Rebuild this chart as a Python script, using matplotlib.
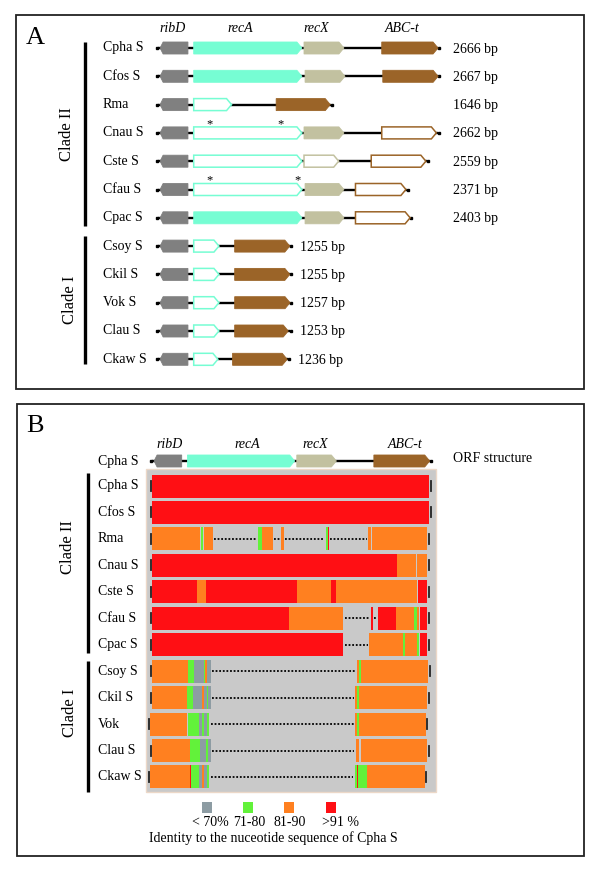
import matplotlib
matplotlib.use("Agg")
import matplotlib.pyplot as plt
from matplotlib.patches import Polygon, Rectangle

plt.rcParams["font.family"] = ["Liberation Serif", "DejaVu Serif"]

# ── Data ───────────────────────────────────────────────────────────────────────
STRAINS_A = ["Cpha S", "Cfos S", "Rma", "Cnau S", "Cste S", "Cfau S", "Cpac S",
             "Csoy S", "Ckil S", "Vok S", "Clau S", "Ckaw S"]
STRAINS_B = ["Cpha S", "Cfos S", "Rma", "Cnau S", "Cste S", "Cfau S", "Cpac S",
             "Csoy S", "Ckil S", "Vok", "Clau S", "Ckaw S"]
ORF_LEN = [2666, 2667, 1646, 2662, 2559, 2371, 2403, 1255, 1255, 1257, 1253, 1236]
N_CLADE_II = 7

# (gene, start bp, end bp, intact ORF)
ORFS = [
    [("ribD", 20, 285, 1), ("recA", 340, 1370, 1), ("recX", 1390, 1770, 1), ("ABC", 2130, 2666, 1)],
    [("ribD", 20, 285, 1), ("recA", 340, 1370, 1), ("recX", 1400, 1780, 1), ("ABC", 2140, 2667, 1)],
    [("ribD", 20, 285, 1), ("recA", 340, 700, 0), ("ABC", 1125, 1640, 1)],
    [("ribD", 20, 285, 1), ("recA", 340, 1370, 0), ("recX", 1390, 1770, 1), ("ABC", 2130, 2650, 0)],
    [("ribD", 20, 285, 1), ("recA", 340, 1370, 0), ("recX", 1390, 1720, 0), ("ABC", 2030, 2550, 0)],
    [("ribD", 20, 285, 1), ("recA", 340, 1370, 0), ("recX", 1400, 1770, 1), ("ABC", 1880, 2360, 0)],
    [("ribD", 20, 285, 1), ("recA", 340, 1370, 1), ("recX", 1400, 1770, 1), ("ABC", 1880, 2400, 0)],
    [("ribD", 20, 285, 1), ("recA", 340, 580, 0), ("ABC", 730, 1255, 1)],
    [("ribD", 20, 285, 1), ("recA", 340, 580, 0), ("ABC", 730, 1255, 1)],
    [("ribD", 20, 285, 1), ("recA", 340, 580, 0), ("ABC", 730, 1257, 1)],
    [("ribD", 20, 285, 1), ("recA", 340, 580, 0), ("ABC", 730, 1240, 1)],
    [("ribD", 20, 285, 1), ("recA", 340, 570, 0), ("ABC", 710, 1230, 1)],
]
STARS = {3: [495, 1171], 5: [495, 1328]}

GENE_LABELS = ["ribD", "recA", "recX", "ABC-t"]

# identity segments along Cpha S (start bp, end bp, class); "-" = gap
ALIGN = [
    [(0, 2660, "r")],
    [(0, 2660, "r")],
    [(0, 460, "o"), (470, 490, "g"), (500, 585, "o"), (585, 1010, "-"), (1015, 1055, "g"),
     (1055, 1160, "o"), (1160, 1235, "-"), (1240, 1265, "o"), (1265, 1665, "-"),
     (1670, 1690, "g"), (1690, 1700, "r"), (1700, 2070, "-"), (2070, 2100, "o"), (2110, 2640, "o")],
    [(0, 2350, "r"), (2350, 2535, "o"), (2545, 2640, "o")],
    [(0, 435, "r"), (435, 520, "o"), (520, 1395, "r"), (1395, 1720, "o"), (1720, 1770, "r"),
     (1770, 2545, "o"), (2555, 2640, "r")],
    [(0, 1315, "r"), (1315, 1835, "o"), (1840, 2100, "-"), (2105, 2120, "r"), (2125, 2160, "-"),
     (2165, 2345, "r"), (2345, 2515, "o"), (2515, 2545, "g"), (2545, 2565, "o"), (2575, 2640, "r")],
    [(0, 1835, "r"), (1845, 2080, "-"), (2085, 2410, "o"), (2410, 2430, "g"), (2430, 2545, "o"),
     (2545, 2565, "g"), (2575, 2640, "r")],
    [(0, 345, "o"), (345, 405, "g"), (405, 500, "s"), (500, 510, "g"), (510, 530, "o"),
     (530, 565, "s"), (570, 1965, "-"), (1970, 1990, "o"), (1990, 2010, "g"), (2010, 2650, "o")],
    [(0, 335, "o"), (335, 395, "g"), (395, 480, "s"), (480, 500, "o"), (500, 525, "s"),
     (525, 540, "g"), (540, 565, "s"), (570, 1945, "-"), (1950, 1970, "o"), (1970, 1985, "g"),
     (1985, 2640, "o")],
    [(-20, 340, "o"), (345, 450, "g"), (450, 480, "s"), (480, 500, "g"), (500, 525, "s"),
     (525, 550, "g"), (555, 1945, "-"), (1950, 1970, "o"), (1970, 1985, "g"), (1985, 2630, "o")],
    [(0, 365, "o"), (365, 460, "g"), (460, 520, "s"), (520, 540, "g"), (540, 565, "s"),
     (570, 1945, "-"), (1955, 1985, "o"), (2005, 2640, "o")],
    [(-20, 365, "o"), (365, 375, "r"), (375, 450, "g"), (450, 480, "s"), (480, 500, "o"),
     (500, 525, "s"), (525, 550, "g"), (555, 1935, "-"), (1945, 1965, "g"), (1965, 1975, "r"),
     (1975, 2060, "g"), (2060, 2620, "o")],
]

LEGEND_CLASSES = ["s", "g", "o", "r"]
LEGEND_LABELS = ["< 70%", "71-80", "81-90", ">91 %"]

GENE_COLORS = {"ribD": "#808080", "recA": "#76fdd3", "recX": "#c2c1a0", "ABC": "#9b6428"}
ID_COLORS = {"s": "#8d9ca3", "g": "#62f23a", "o": "#ff8020", "r": "#ff0f14"}

# ── Figure (pixel coordinates) ─────────────────────────────────────────────────
fig = plt.figure(figsize=(6, 8.73), dpi=100)
ax = fig.add_axes([0, 0, 1, 1])
ax.set_xlim(0, 600)
ax.set_ylim(873, 0)
ax.axis("off")


def xa(bp):
    return 158 + bp / 9.52


def xb(bp):
    return 152 + bp / 9.6


def draw_gene(gene, x0, x1, y, filled, h=12, head=5):
    col = GENE_COLORS[gene]
    if gene == "ribD":
        pts = [(x0 + 3, y - h / 2), (x1, y - h / 2), (x1, y + h / 2), (x0 + 3, y + h / 2), (x0, y)]
    else:
        pts = [(x0, y - h / 2), (x1 - head, y - h / 2), (x1, y), (x1 - head, y + h / 2), (x0, y + h / 2)]
    if filled:
        ax.add_patch(Polygon(pts, closed=True, facecolor=col, edgecolor=col, lw=0.6, zorder=3))
    else:
        ax.add_patch(Polygon(pts, closed=True, facecolor="white", edgecolor=col, lw=1.1, zorder=3))


def draw_track(y, orfs, end, xf):
    ax.plot([xf(0), xf(end)], [y, y], color="black", lw=1.7, zorder=2, solid_capstyle="butt")
    ax.plot([xf(0) - 1, xf(end) + 1], [y, y], "s", ms=1.6, color="black", zorder=2)
    for gene, s, e, full in orfs:
        draw_gene(gene, xf(s), xf(e), y, full)


# ── Panel A ────────────────────────────────────────────────────────────────────
ax.add_patch(Rectangle((16, 15), 568, 374, fill=False, edgecolor="#222222", lw=1.3))
ax.text(35, 38, "A", fontsize=19, ha="center", va="center")
for lab, x in zip(GENE_LABELS, [173, 240, 316, 402]):
    ax.text(x, 29, lab, fontsize=10, style="italic", ha="center", va="center")

for i, name in enumerate(STRAINS_A):
    y = 48 + 28.3 * i
    ax.text(103, y, name, fontsize=10, ha="left", va="center")
    draw_track(y, ORFS[i], ORF_LEN[i], xa)
    for s in STARS.get(i, []):
        ax.text(xa(s), y - 9, "*", fontsize=9, ha="center", va="center")
    bx = 453 if i < N_CLADE_II else xa(ORF_LEN[i]) + 10
    ax.text(bx, y + 1, f"{ORF_LEN[i]} bp", fontsize=10, ha="left", va="center")

ax.plot([85, 85], [42, 226], color="black", lw=2.4, solid_capstyle="butt")
ax.plot([85, 85], [236, 364], color="black", lw=2.4, solid_capstyle="butt")
ax.text(67, 134, "Clade II", fontsize=12, rotation=90, ha="center", va="center")
ax.text(70, 300, "Clade I", fontsize=12, rotation=90, ha="center", va="center")

# ── Panel B ────────────────────────────────────────────────────────────────────
ax.add_patch(Rectangle((17, 404), 567, 452, fill=False, edgecolor="#222222", lw=1.3))
ax.text(35, 426, "B", fontsize=19, ha="center", va="center")
for lab, x in zip(GENE_LABELS, [170, 247, 315, 405]):
    ax.text(x, 445, lab, fontsize=10, style="italic", ha="center", va="center")
ax.text(98, 461, "Cpha S", fontsize=10, ha="left", va="center")
draw_track(461, ORFS[0], ORF_LEN[0], xb)
ax.text(453, 459, "ORF structure", fontsize=10, ha="left", va="center")

ax.add_patch(Rectangle((146, 469), 290, 323, facecolor="#c9c9c9", edgecolor="#ecd8c8", lw=1.0, zorder=1))
for i, name in enumerate(STRAINS_B):
    y = 486 + 26.45 * i
    ax.text(98, y, name, fontsize=10, ha="left", va="center")
    segs = ALIGN[i]
    for s, e, c in segs:
        if c == "-":
            ax.plot([xb(s) + 1, xb(e) - 1], [y, y], color="black", lw=1.3,
                    linestyle=(0, (1, 1)), zorder=2)
        else:
            ax.add_patch(Rectangle((xb(s), y - 11.5), xb(e) - xb(s), 23,
                                   facecolor=ID_COLORS[c], edgecolor="none", zorder=2))
    for xt in [xb(segs[0][0]) - 1, xb(segs[-1][1]) + 1.5]:
        ax.plot([xt, xt], [y - 5, y + 5], color="#222222", lw=1.3, zorder=3)

ax.plot([88, 88], [473, 653], color="black", lw=2.4, solid_capstyle="butt")
ax.plot([88, 88], [661, 792], color="black", lw=2.4, solid_capstyle="butt")
ax.text(68, 547, "Clade II", fontsize=12, rotation=90, ha="center", va="center")
ax.text(70, 713, "Clade I", fontsize=12, rotation=90, ha="center", va="center")

# legend
for c, lab, x, tx in zip(LEGEND_CLASSES, LEGEND_LABELS, [207, 247.5, 288.5, 330.5], [210, 249, 290, 340]):
    ax.add_patch(Rectangle((x - 5, 802), 10, 11, facecolor=ID_COLORS[c], edgecolor="none"))
    ax.text(tx, 823, lab, fontsize=10, ha="center", va="center")
ax.text(273, 838, "Identity to the nuceotide sequence of Cpha S", fontsize=10, ha="center", va="center")

fig.savefig("out.png", dpi=100)
